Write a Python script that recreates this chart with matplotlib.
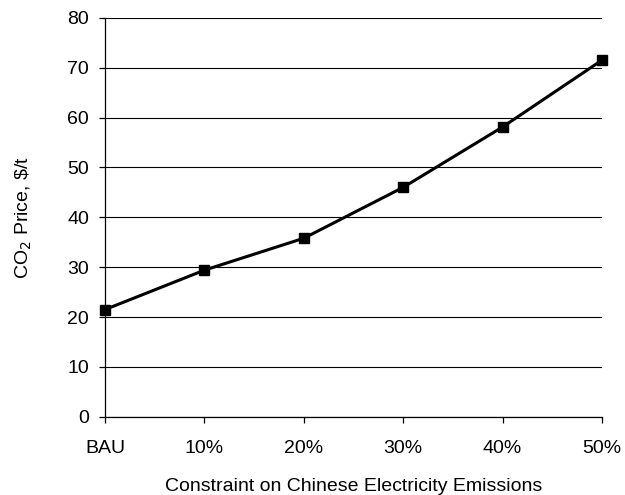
import matplotlib.pyplot as plt
import numpy as np

plt.rcParams['font.family'] = ['Liberation Sans', 'DejaVu Sans']

categories = ['BAU', '10%', '20%', '30%', '40%', '50%']
co2_price = [21.5, 29.4, 35.8, 46.0, 58.1, 71.5]

fig = plt.figure(figsize=(6.25, 4.95), dpi=100)
ax = fig.add_axes([0.168, 0.158, 0.795, 0.806])

x = np.arange(len(categories))
ax.plot(x, co2_price, color='black', lw=2.2, marker='s', markersize=6.5, zorder=3, clip_on=False)

ax.set_xlim(0, len(categories) - 1)
ax.set_ylim(0, 80)
ax.set_yticks(range(0, 81, 10))
ax.set_xticks(x)
ax.set_xticklabels(categories)
ax.yaxis.grid(True, color='black', lw=0.8)
ax.set_axisbelow(True)
for s in ['top', 'right']:
    ax.spines[s].set_visible(False)
ax.spines['left'].set_linewidth(0.9)
ax.spines['bottom'].set_linewidth(0.9)
ax.tick_params(axis='both', labelsize=14, length=4.5, width=0.9, direction='out')
ax.tick_params(axis='y', pad=7)
ax.tick_params(axis='x', pad=12)

ax.set_xlabel('Constraint on Chinese Electricity Emissions', fontsize=14, labelpad=15)
ax.set_ylabel('CO$_2$ Price, \\$/t', fontsize=14, labelpad=24)

fig.savefig('out.png', dpi=100)
